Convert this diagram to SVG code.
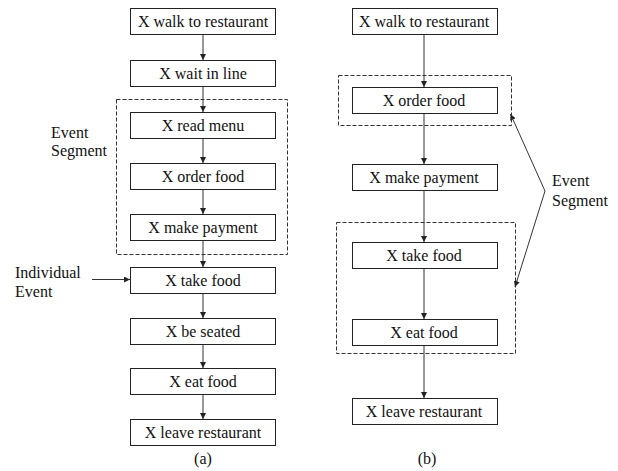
<svg xmlns="http://www.w3.org/2000/svg" width="618" height="471" viewBox="0 0 618 471">
<defs>
<marker id="ah" markerUnits="userSpaceOnUse" markerWidth="6" markerHeight="6" refX="6" refY="3" orient="auto">
<path d="M0,0 L6,3 L0,6 z" fill="#222"/>
</marker>
<style>
.box{fill:#fff;stroke:#222;stroke-width:1}
.seg{fill:none;stroke:#333;stroke-width:1;stroke-dasharray:4,2}
.t{font-family:"Liberation Serif","Times New Roman",serif;font-size:16px;fill:#111}
.c{text-anchor:middle}
.ln{fill:none;stroke:#333;stroke-width:1;marker-end:url(#ah)}
</style>
</defs>
<rect width="618" height="471" fill="#fff"/>
<g id="segments">
<rect id="segA" class="seg" x="116.5" y="99.5" width="171" height="155"/>
<rect id="segB1" class="seg" x="338.5" y="75.5" width="173" height="50"/>
<rect id="segB2" class="seg" x="336.5" y="222.5" width="179" height="131"/>
</g>
<g id="connectors">
<line class="ln" x1="203" y1="34" x2="203" y2="60"/>
<line class="ln" x1="203" y1="86" x2="203" y2="112"/>
<line class="ln" x1="203" y1="138" x2="203" y2="163"/>
<line class="ln" x1="203" y1="189" x2="203" y2="214"/>
<line class="ln" x1="203" y1="241" x2="203" y2="267"/>
<line class="ln" x1="203" y1="293" x2="203" y2="318"/>
<line class="ln" x1="203" y1="344" x2="203" y2="368"/>
<line class="ln" x1="203" y1="394" x2="203" y2="419"/>
<line class="ln" x1="92" y1="279.5" x2="130" y2="279.5"/>
<line class="ln" x1="424" y1="34" x2="424" y2="87"/>
<line class="ln" x1="424" y1="113" x2="424" y2="164"/>
<line class="ln" x1="424" y1="190" x2="424" y2="242"/>
<line class="ln" x1="424" y1="268" x2="424" y2="319"/>
<line class="ln" x1="424" y1="346" x2="424" y2="398"/>
<line class="ln" x1="545" y1="191" x2="510.5" y2="114"/>
<line class="ln" x1="545" y1="191" x2="515" y2="287"/>
</g>
<g id="a1"><rect class="box" x="130.5" y="8.5" width="145" height="26"/><text class="t c" x="203" y="27">X walk to restaurant</text></g>
<g id="a2"><rect class="box" x="130.5" y="60.5" width="145" height="26"/><text class="t c" x="203" y="79">X wait in line</text></g>
<g id="a3"><rect class="box" x="130.5" y="112.5" width="145" height="26"/><text class="t c" x="203" y="131">X read menu</text></g>
<g id="a4"><rect class="box" x="130.5" y="163.5" width="145" height="26"/><text class="t c" x="203" y="182">X order food</text></g>
<g id="a5"><rect class="box" x="130.5" y="214.5" width="145" height="26"/><text class="t c" x="203" y="233">X make payment</text></g>
<g id="a6"><rect class="box" x="130.5" y="267.5" width="145" height="26"/><text class="t c" x="203" y="286">X take food</text></g>
<g id="a7"><rect class="box" x="130.5" y="318.5" width="145" height="26"/><text class="t c" x="203" y="337">X be seated</text></g>
<g id="a8"><rect class="box" x="130.5" y="368.5" width="145" height="26"/><text class="t c" x="203" y="387">X eat food</text></g>
<g id="a9"><rect class="box" x="130.5" y="419.5" width="145" height="26"/><text class="t c" x="203" y="438">X leave restaurant</text></g>
<g id="b1"><rect class="box" x="352.5" y="8.5" width="145" height="26"/><text class="t c" x="424" y="27">X walk to restaurant</text></g>
<g id="b2"><rect class="box" x="352.5" y="87.5" width="145" height="26"/><text class="t c" x="424" y="106">X order food</text></g>
<g id="b3"><rect class="box" x="352.5" y="164.5" width="145" height="26"/><text class="t c" x="424" y="183">X make payment</text></g>
<g id="b4"><rect class="box" x="352.5" y="242.5" width="145" height="26"/><text class="t c" x="424" y="261">X take food</text></g>
<g id="b5"><rect class="box" x="352.5" y="319.5" width="145" height="26"/><text class="t c" x="424" y="338">X eat food</text></g>
<g id="b6"><rect class="box" x="352.5" y="398.5" width="145" height="26"/><text class="t c" x="424" y="417">X leave restaurant</text></g>
<g id="labels">
<text class="t" x="51" y="138">Event</text>
<text class="t" x="51" y="156">Segment</text>
<text class="t" x="15" y="278">Individual</text>
<text class="t" x="15" y="297">Event</text>
<text class="t" x="552" y="186">Event</text>
<text class="t" x="552" y="206">Segment</text>
<text class="t c" x="203" y="464">(a)</text>
<text class="t c" x="427" y="464">(b)</text>
</g>
</svg>
